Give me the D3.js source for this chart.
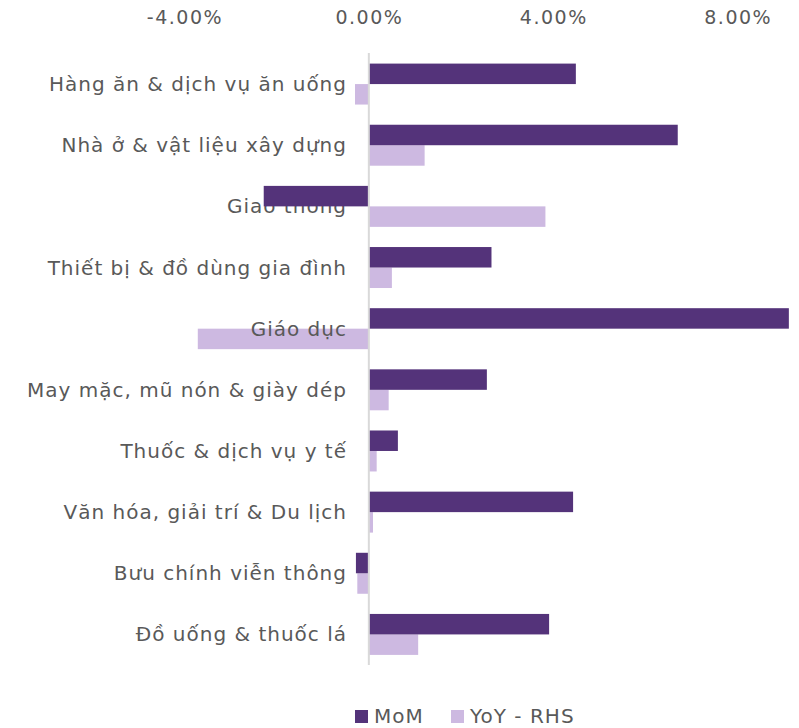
<!DOCTYPE html>
<html>
<head>
<meta charset="utf-8">
<script src="https://cdn.jsdelivr.net/npm/d3@7"></script>
<style>
  body { margin: 0; background: #fff; }
  text { font-family: "DejaVu Sans", sans-serif; fill: #595959; letter-spacing: 1px; }
</style>
</head>
<body>
<div id="chart"></div>
<script>
var categories = [
  "Hàng ăn & dịch vụ ăn uống",
  "Nhà ở & vật liệu xây dựng",
  "Giao thông",
  "Thiết bị & đồ dùng gia đình",
  "Giáo dục",
  "May mặc, mũ nón & giày dép",
  "Thuốc & dịch vụ y tế",
  "Văn hóa, giải trí & Du lịch",
  "Bưu chính viễn thông",
  "Đồ uống & thuốc lá"
];
var mom = [4.49, 6.70, -2.28, 2.66, 9.11, 2.56, 0.63, 4.43, -0.28, 3.91];
var yoy = [-0.30, 1.21, 3.83, 0.50, -3.71, 0.43, 0.17, 0.09, -0.25, 1.07];
var tickValues = [-4, 0, 4, 8];
var seriesNames = ["MoM", "YoY - RHS"];
var colors = ["#54337a", "#cdb9e1"];

var size = { width: 799, height: 728 };

var svg = d3.select('#chart')
            .append('svg')
            .attr('width', size.width)
            .attr('height', size.height);

var x = d3.scaleLinear().domain([-8, 9.33]).range([0, 799]);
var y = d3.scaleBand().domain(categories).range([53.5, 665]).paddingInner(0.33).paddingOuter(0.165);
var sub = d3.scaleBand().domain([0, 1]).range([0, y.bandwidth()]);

// top axis labels, plain hyphen for minus like the original
var axis = d3.axisTop(x).tickValues(tickValues).tickSize(0)
             .tickFormat(function(d){ return (d < 0 ? '-' : '') + Math.abs(d).toFixed(2) + '%'; });
var ax = svg.append('g').attr('transform', 'translate(0,20)').call(axis);
ax.select('.domain').remove();
ax.selectAll('text').attr('dy', '0.35em')
  .style('font-size', '19px').style('letter-spacing', '1.5px')
  .style('font-family', '"DejaVu Sans", sans-serif').attr('fill', '#595959');

var rows = svg.selectAll('g.row')
              .data(categories)
              .enter()
              .append('g')
              .attr('class', 'row')
              .attr('transform', function(d){ return 'translate(0,' + y(d) + ')'; });

var addBars = function(vals, s){
  rows.append('rect')
      .attr('x', function(d, i){ return x(Math.min(0, vals[i])); })
      .attr('y', sub(s))
      .attr('width', function(d, i){ return Math.abs(x(vals[i]) - x(0)); })
      .attr('height', sub.bandwidth())
      .attr('fill', colors[s]);
};

// secondary series sits behind the labels, MoM on top of them
addBars(yoy, 1);

rows.append('text')
    .attr('x', 347)
    .attr('y', y.bandwidth() / 2)
    .attr('dy', '0.35em')
    .attr('text-anchor', 'end')
    .style('font-size', '20px')
    .text(function(d){ return d; });

addBars(mom, 0);

// zero line
svg.append('line')
   .attr('x1', x(0)).attr('x2', x(0))
   .attr('y1', 53).attr('y2', 665)
   .attr('stroke', '#d9d9d9').attr('stroke-width', 2);

// legend
var legend = svg.append('g').attr('transform', 'translate(355,715)');
var lx = [0, 96];
seriesNames.forEach(function(n, i){
  legend.append('rect').attr('x', lx[i]).attr('y', -5).attr('width', 13).attr('height', 13).attr('fill', colors[i]);
  legend.append('text').attr('x', lx[i] + 19).attr('y', 1).attr('dy', '0.35em')
        .style('font-size', '20px').text(n);
});
</script>
</body>
</html>
